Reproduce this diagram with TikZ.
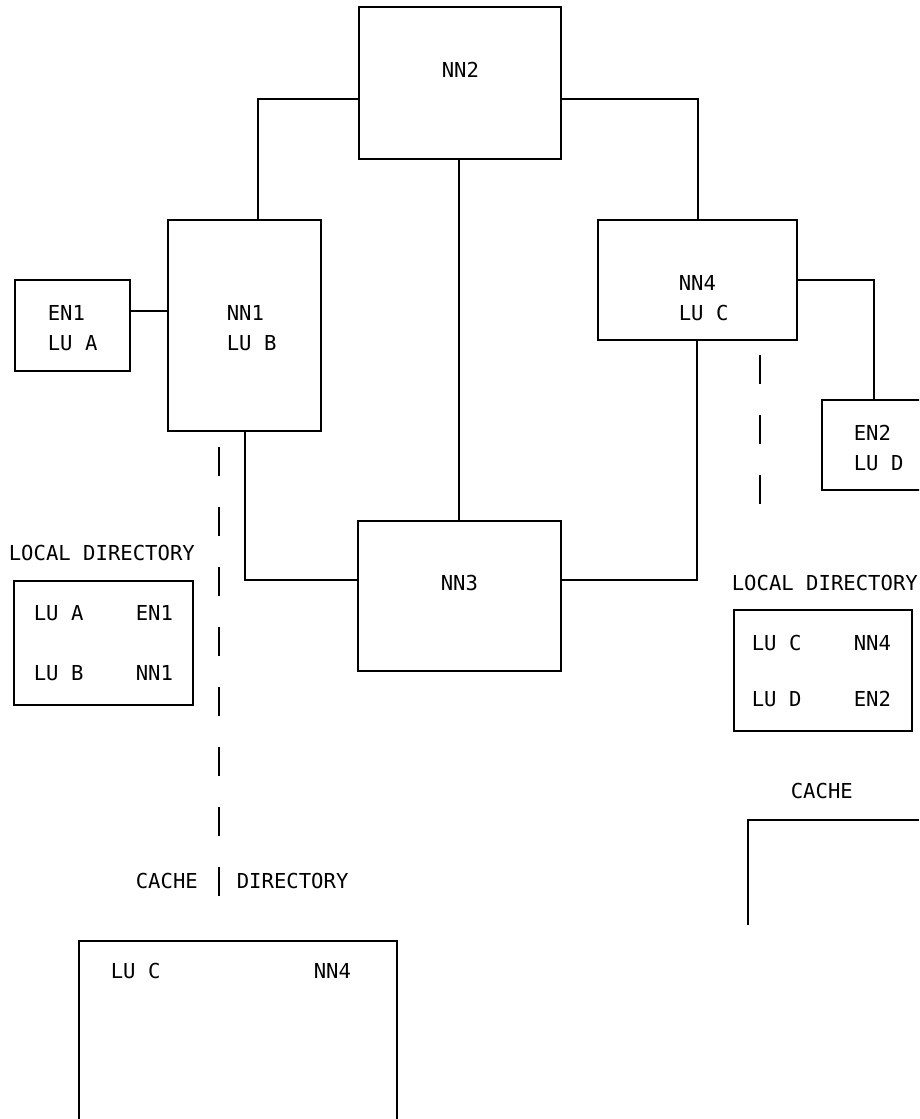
\documentclass[tikz,border=0pt]{standalone}
\usepackage{fontspec}
\setmonofont{DejaVu Sans Mono}
\begin{document}
\begin{tikzpicture}[x=1pt,y=-1pt,
  line width=1.6pt,
  box/.style={draw, line width=1.6pt, inner sep=0pt, outer sep=0pt, anchor=north west},
  lbl/.style={anchor=base west, inner sep=0pt, font=\ttfamily\fontsize{20.6}{25}\selectfont},
  dashline/.style={dash pattern=on 29pt off 31pt}]
\clip (0,0) rectangle (919,1119);
\fill[white] (0,0) rectangle (919,1119);
% boxes
\node[box, minimum width=202pt, minimum height=152pt] (nn2) at (359,7) {};
\node[box, minimum width=153pt, minimum height=211pt] (nn1) at (168,220) {};
\node[box, minimum width=115pt, minimum height=91pt] (en1) at (15,280) {};
\node[box, minimum width=199pt, minimum height=120pt] (nn4) at (598,220) {};
\node[box, minimum width=178pt, minimum height=90pt] (en2) at (822,400) {};
\node[box, minimum width=203pt, minimum height=150pt] (nn3) at (358,521) {};
\node[box, minimum width=179pt, minimum height=124pt] (ldl) at (14,581) {};
\node[box, minimum width=178pt, minimum height=121pt] (ldr) at (734,610) {};
\node[box, minimum width=318pt, minimum height=260pt] (cachel) at (79,941) {};
\coordinate (cr1) at (919,820);
\coordinate (cr2) at (748,820);
\coordinate (cr3) at (748,925);
\draw (cr1) -- (cr2) -- (cr3);
% connectors
\draw (nn2.west |- 0,99) -| (258,0 |- nn1.north);
\draw (nn2.east |- 0,99) -| (698,0 |- nn4.north);
\draw (459,0 |- nn2.south) -- (459,0 |- nn3.north);
\draw (245,0 |- nn1.south) |- (nn3.west |- 0,580);
\draw (697,0 |- nn4.south) |- (nn3.east |- 0,580);
\draw (en1.east |- 0,311) -- (nn1.west |- 0,311);
\draw (nn4.east |- 0,280) -| (874,0 |- en2.north);
% dashed lines
\coordinate (dl1) at (219,447);
\coordinate (dl2) at (219,896);
\draw[dashline] (dl1) -- (dl2);
\coordinate (dr1) at (760,355);
\coordinate (dr2) at (760,506);
\draw[dashline] (dr1) -- (dr2);
% texts
\node[lbl] (t1) at (441,77) {NN2};
\node[lbl] (t2) at (226,320) {NN1};
\node[lbl] (t3) at (226,350) {LU B};
\node[lbl] (t4) at (47,320) {EN1};
\node[lbl] (t5) at (47,350) {LU A};
\node[lbl] (t6) at (678,290) {NN4};
\node[lbl] (t7) at (678,320) {LU C};
\node[lbl] (t8) at (853,440) {EN2};
\node[lbl] (t9) at (853,470) {LU D};
\node[lbl] (t10) at (440,590) {NN3};
\node[lbl] (t11) at (8,560) {LOCAL DIRECTORY};
\node[lbl] (t12) at (33,620) {LU A};
\node[lbl] (t13) at (135,620) {EN1};
\node[lbl] (t14) at (33,680) {LU B};
\node[lbl] (t15) at (135,680) {NN1};
\node[lbl] (t16) at (731,590) {LOCAL DIRECTORY};
\node[lbl] (t17) at (751,650) {LU C};
\node[lbl] (t18) at (853,650) {NN4};
\node[lbl] (t19) at (751,706) {LU D};
\node[lbl] (t20) at (853,706) {EN2};
\node[lbl] (t21) at (790,798) {CACHE};
\node[lbl] (t22) at (135,888) {CACHE};
\node[lbl] (t23) at (236,888) {DIRECTORY};
\node[lbl] (t24) at (110,978) {LU C};
\node[lbl] (t25) at (313,978) {NN4};
\end{tikzpicture}
\end{document}
